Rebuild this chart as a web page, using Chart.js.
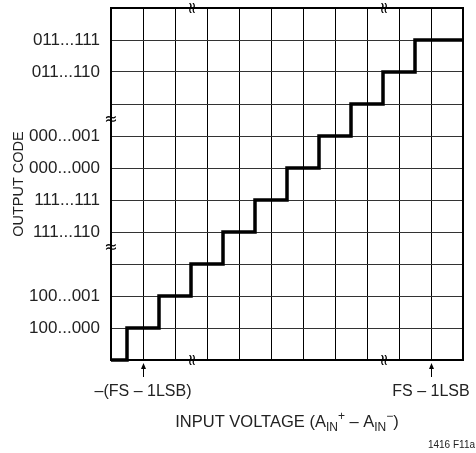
<!DOCTYPE html>
<html>
<head>
<meta charset="utf-8">
<script src="https://cdn.jsdelivr.net/npm/chart.js@4/dist/chart.umd.min.js"></script>
<style>
  body { margin: 0; background: #fff; }
  canvas { display: block; }
</style>
</head>
<body>
<canvas id="chart" width="476" height="453"></canvas>
<script>
/* ===== DATA ===== */
const stepX = [0, 0.5, 1.5, 2.5, 3.5, 4.5, 5.5, 6.5, 7.5, 8.5, 9.5, 11];
const stepCode = [0, 1, 2, 3, 4, 5, 6, 7, 8, 9, 10, 10];

const codeTicks = [1, 2, 4, 5, 6, 7, 9, 10];
const codeLabels = ["100...000", "100...001", "111...110", "111...111",
  "000...000", "000...001", "011...110", "011...111"];

const markerX = [1, 10];
const markerLabels = ["\u2013(FS \u2013 1LSB)", "FS \u2013 1LSB"];

const breakX = [2.5, 8.5];
const breakY = [3.5, 7.5];

const FONT = "'Liberation Sans', Arial, sans-serif";
Chart.defaults.font.family = FONT;
Chart.defaults.color = "#222";

/* ===== DECORATION PLUGIN ===== */
const extras = {
  id: "extras",
  afterDraw(chart) {
    const ctx = chart.ctx;
    const a = chart.chartArea;
    const xs = chart.scales.x;
    const ys = chart.scales.y;
    ctx.save();

    // top + right border
    ctx.strokeStyle = "#000";
    ctx.lineWidth = 2;
    ctx.beginPath();
    ctx.moveTo(a.left, a.top);
    ctx.lineTo(a.right, a.top);
    ctx.lineTo(a.right, a.bottom);
    ctx.stroke();

    // break marks
    ctx.fillStyle = "#000";
    ctx.font = "16px 'DejaVu Sans'";
    ctx.textAlign = "center";
    ctx.textBaseline = "middle";
    breakY.forEach((v) => ctx.fillText("\u2248", a.left, ys.getPixelForValue(v)));
    breakX.forEach((v) => {
      const px = xs.getPixelForValue(v);
      [a.top, a.bottom].forEach((py) => {
        ctx.save();
        ctx.translate(px, py);
        ctx.rotate(Math.PI / 2);
        ctx.fillText("\u2248", 0, 0);
        ctx.restore();
      });
    });

    // arrows under the x axis
    ctx.lineWidth = 1;
    markerX.forEach((v) => {
      const px = Math.round(xs.getPixelForValue(v)) + 0.5;
      ctx.beginPath();
      ctx.moveTo(px, a.bottom + 8);
      ctx.lineTo(px, a.bottom + 17);
      ctx.stroke();
      ctx.beginPath();
      ctx.moveTo(px, a.bottom + 3);
      ctx.lineTo(px - 2.5, a.bottom + 9);
      ctx.lineTo(px + 2.5, a.bottom + 9);
      ctx.closePath();
      ctx.fill();
    });

    // x axis title with sub/superscripts
    const parts = [
      ["INPUT VOLTAGE (A", 16.5, 0],
      ["IN", 12, 4],
      ["+", 12, -7],
      [" \u2013 A", 16.5, 0],
      ["IN", 12, 4],
      ["\u2212", 12, -7],
      [")", 16.5, 0],
    ];
    ctx.fillStyle = "#222";
    ctx.textAlign = "left";
    ctx.textBaseline = "alphabetic";
    let w = 0;
    parts.forEach((p) => {
      ctx.font = p[1] + "px " + FONT;
      w += ctx.measureText(p[0]).width;
    });
    let x = (a.left + a.right) / 2 - w / 2;
    const base = 427;
    parts.forEach((p) => {
      ctx.font = p[1] + "px " + FONT;
      ctx.fillText(p[0], x, base + p[2]);
      x += ctx.measureText(p[0]).width;
    });

    // figure id
    ctx.font = "10px " + FONT;
    ctx.textAlign = "right";
    ctx.fillText("1416 F11a", 475, 448);

    ctx.restore();
  },
};

/* ===== CHART ===== */
new Chart(document.getElementById("chart"), {
  type: "line",
  data: {
    datasets: [
      {
        data: stepX.map((x, i) => ({ x: x, y: stepCode[i] })),
        stepped: "before",
        borderColor: "#000",
        borderWidth: 3.5,
        pointRadius: 0,
        fill: false,
        clip: false,
      },
    ],
  },
  options: {
    responsive: false,
    animation: false,
    devicePixelRatio: 1,
    layout: { padding: { top: 8, right: 13, left: 0, bottom: 0 } },
    plugins: { legend: { display: false }, tooltip: { enabled: false } },
    scales: {
      x: {
        type: "linear",
        min: 0,
        max: 11,
        afterFit: (s) => {
          s.height = 93;
          s.paddingLeft = 0;
          s.paddingRight = 0;
        },
        grid: { color: "#000", lineWidth: 1, drawTicks: false },
        border: { display: true, color: "#000", width: 2 },
        ticks: {
          stepSize: 1,
          autoSkip: false,
          maxRotation: 0,
          padding: 22,
          font: { size: 16 },
          color: "#222",
          callback: (v) => {
            const i = markerX.indexOf(v);
            return i >= 0 ? markerLabels[i] : "";
          },
        },
      },
      y: {
        type: "linear",
        min: 0,
        max: 11,
        afterFit: (s) => {
          s.width = 111;
          s.paddingTop = 0;
          s.paddingBottom = 0;
        },
        grid: { color: "#333", lineWidth: 1, drawTicks: false },
        border: { display: true, color: "#000", width: 2 },
        title: {
          display: true,
          text: "OUTPUT CODE",
          font: { size: 14.5 },
          color: "#222",
          padding: { top: 10, bottom: 0 },
        },
        ticks: {
          stepSize: 1,
          autoSkip: false,
          padding: 11,
          font: { size: 17 },
          color: "#222",
          callback: (v) => {
            const i = codeTicks.indexOf(v);
            return i >= 0 ? codeLabels[i] : "";
          },
        },
      },
    },
  },
  plugins: [extras],
});
</script>
</body>
</html>
